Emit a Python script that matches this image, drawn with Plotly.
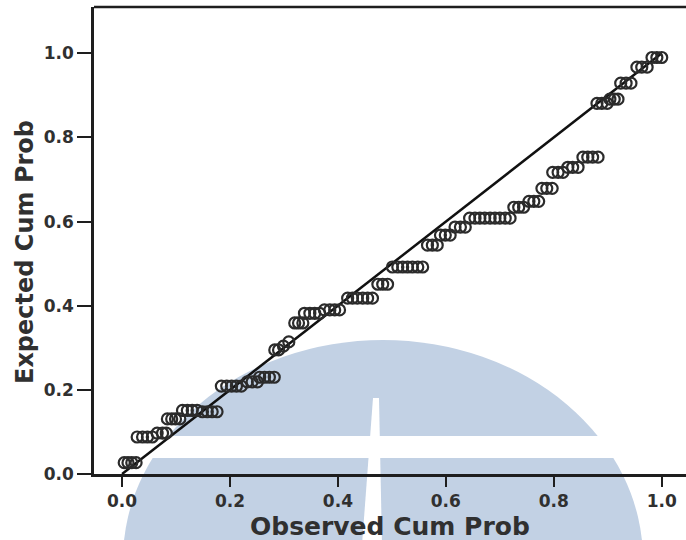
import plotly.graph_objects as go

# Observed vs expected cumulative probabilities (P-P plot)
observed = [
    0.004, 0.011, 0.018, 0.026,
    0.028, 0.038, 0.047, 0.056, 0.065, 0.075, 0.082,
    0.084, 0.092, 0.099, 0.107,
    0.112, 0.121, 0.130, 0.139, 0.149, 0.158, 0.167, 0.176,
    0.184, 0.194, 0.203, 0.212, 0.221, 0.232, 0.241, 0.251, 0.255, 0.264, 0.273, 0.282,
    0.283, 0.290, 0.299, 0.309,
    0.320, 0.327, 0.335,
    0.338, 0.348, 0.357, 0.366, 0.375, 0.385, 0.394, 0.403,
    0.418, 0.427, 0.436, 0.446, 0.455, 0.464,
    0.474, 0.483, 0.492,
    0.501, 0.511, 0.520, 0.529, 0.538, 0.548, 0.557,
    0.566, 0.575, 0.584,
    0.590, 0.599, 0.608,
    0.617, 0.627, 0.636,
    0.644, 0.654, 0.663, 0.672, 0.682, 0.691, 0.700, 0.710, 0.719,
    0.726, 0.735, 0.744,
    0.754, 0.763, 0.772,
    0.778, 0.787, 0.797,
    0.798, 0.808, 0.817,
    0.826, 0.835, 0.845,
    0.854, 0.863, 0.872, 0.882,
    0.880, 0.889, 0.899,
    0.904, 0.912, 0.919,
    0.924, 0.934, 0.943,
    0.954, 0.963, 0.973,
    0.982, 0.991, 1.000,
]
expected = [
    0.027, 0.027, 0.027, 0.027,
    0.088, 0.088, 0.088, 0.088, 0.097, 0.097, 0.097,
    0.131, 0.131, 0.131, 0.131,
    0.151, 0.151, 0.151, 0.151, 0.148, 0.148, 0.148, 0.148,
    0.209, 0.209, 0.209, 0.209, 0.209, 0.219, 0.219, 0.219, 0.230, 0.230, 0.230, 0.230,
    0.295, 0.295, 0.304, 0.314,
    0.359, 0.359, 0.359,
    0.382, 0.382, 0.382, 0.382, 0.390, 0.390, 0.390, 0.390,
    0.418, 0.418, 0.418, 0.418, 0.418, 0.418,
    0.451, 0.451, 0.451,
    0.492, 0.492, 0.492, 0.492, 0.492, 0.492, 0.492,
    0.544, 0.544, 0.544,
    0.568, 0.568, 0.568,
    0.587, 0.587, 0.587,
    0.608, 0.608, 0.608, 0.608, 0.608, 0.608, 0.608, 0.608, 0.608,
    0.634, 0.634, 0.634,
    0.648, 0.648, 0.648,
    0.679, 0.679, 0.679,
    0.717, 0.717, 0.717,
    0.729, 0.729, 0.729,
    0.753, 0.753, 0.753, 0.753,
    0.881, 0.881, 0.881,
    0.891, 0.891, 0.891,
    0.929, 0.929, 0.929,
    0.967, 0.967, 0.967,
    0.990, 0.990, 0.990,
]
reference_line = [0.0, 1.0]
tick_values = [0.0, 0.2, 0.4, 0.6, 0.8, 1.0]

W, H = 686, 540
L, R, T, B = 94, 0, 7, 66
PW, PH = W - L - R, H - T - B


def px(x):
    return (x - L) / PW


def py(y):
    return (H - B - y) / PH


INK = "#1e1e1e"
TEXT = "#303030"
FONT = "DejaVu Sans"

fig = go.Figure()
fig.add_trace(go.Scatter(
    x=reference_line, y=reference_line, mode="lines",
    line=dict(color="#111111", width=2.5), hoverinfo="skip",
))
fig.add_trace(go.Scatter(
    x=observed, y=expected, mode="markers",
    marker=dict(symbol="circle-open", size=11, color="#2b2b2b",
                line=dict(width=2.2)),
))

axis_common = dict(
    showline=True, linewidth=2.5, linecolor=INK,
    ticks="outside", tickwidth=2, tickcolor=INK,
    tickvals=tick_values, tickformat=".1f",
    showgrid=False, zeroline=False,
    tickfont=dict(family=FONT, size=17, color=TEXT, weight="bold"),
)

# Light-blue seal in the background, split by a white band and a narrow notch
shapes = [
    dict(type="circle", xref="paper", yref="paper", layer="below",
         x0=px(383 - 260), x1=px(383 + 260), y0=py(560 + 220), y1=py(560 - 220),
         fillcolor="#c2d1e4", line=dict(width=0)),
    dict(type="rect", xref="paper", yref="paper", layer="below",
         x0=px(96), x1=px(686), y0=py(458), y1=py(436),
         fillcolor="white", line=dict(width=0)),
    dict(type="path", xref="paper", yref="paper", layer="below",
         path=f"M {px(373)},{py(398)} L {px(379)},{py(398)} L {px(382)},{py(545)} "
              f"L {px(362)},{py(545)} Z",
         fillcolor="white", line=dict(width=0)),
    # top frame edge
    dict(type="line", xref="paper", yref="paper", x0=0, x1=1, y0=1, y1=1,
         line=dict(color=INK, width=2.5)),
]

fig.update_layout(
    width=W, height=H, autosize=False,
    margin=dict(l=L, r=R, t=T, b=B),
    paper_bgcolor="white", plot_bgcolor="white",
    showlegend=False,
    xaxis=dict(range=[-0.052, 1.045], ticklen=10, **axis_common),
    yaxis=dict(range=[0, 1.11], ticklen=14, **axis_common),
    shapes=shapes,
    annotations=[
        dict(text="Observed Cum Prob", xref="paper", yref="paper",
             x=px(390), y=py(526), xanchor="center", yanchor="middle",
             showarrow=False,
             font=dict(family=FONT, size=25, color=TEXT, weight="bold")),
        dict(text="Expected Cum Prob", xref="paper", yref="paper",
             x=px(25), y=py(252), xanchor="center", yanchor="middle",
             textangle=-90, showarrow=False,
             font=dict(family=FONT, size=24, color=TEXT, weight="bold")),
    ],
)

fig.write_html("out.html")
